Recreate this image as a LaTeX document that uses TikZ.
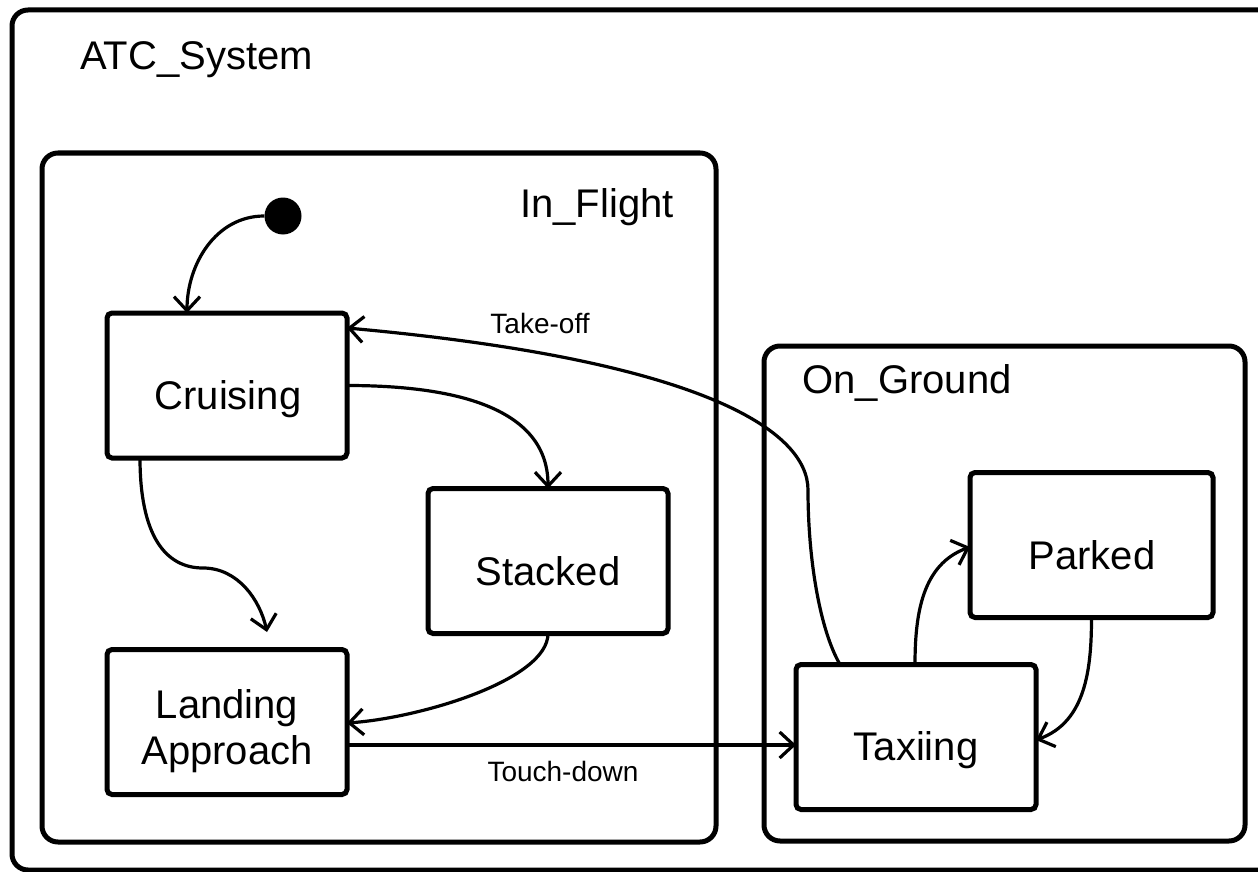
\documentclass[tikz,border=0pt]{standalone}
\usepackage{fontspec}
\setmainfont{Liberation Sans}
\usetikzlibrary{arrows.meta}
\begin{document}
\begin{tikzpicture}[x=1pt,y=-1pt,
  container/.style={draw,line width=5pt,rounded corners=16pt,inner sep=0pt,outer sep=0pt},
  statebox/.style={draw,line width=5pt,rounded corners=5pt,minimum width=240pt,minimum height=145pt,inner sep=0pt,outer sep=0pt},
  stext/.style={font=\fontsize{40}{46}\selectfont,inner sep=0pt,align=center},
  title/.style={font=\fontsize{40}{46}\selectfont,inner sep=0pt},
  conn/.style={line width=3.2pt,-{Straight Barb[length=14pt,width=26pt,line width=3.2pt]}},
  elabel/.style={font=\fontsize{28}{32}\selectfont,inner sep=0pt}]
\useasboundingbox (0,0) rectangle (1258,872);
% containers
\node[container,minimum width=1280pt,minimum height=860pt] (atcbox) at (652,440) {};
\node[title,anchor=west] (atc) at (80,60) {ATC\_System};
\node[container,minimum width=674pt,minimum height=689pt] (inflightbox) at (379,497.5) {};
\node[title] (inflight) at (597,207) {In\_Flight};
\node[container,minimum width=481pt,minimum height=495pt] (ongroundbox) at (1004.5,593.5) {};
\node[title] (onground) at (907,383) {On\_Ground};
% initial state
\node[circle,fill,minimum size=37pt,inner sep=0pt] (init) at (283,216) {};
% states
\node[statebox] (cruising) at (227,385.5) {};
\node[stext,anchor=base] (cruisingtxt) at (228,409) {Cruising};
\node[statebox] (stacked) at (548,561) {};
\node[stext,anchor=base] (stackedtxt) at (548,585) {Stacked};
\node[statebox] (landing) at (227,722) {};
\node[stext] (landingtxt) at (227,731) {Landing\\Approach};
\node[statebox,minimum width=243pt] (parked) at (1091.5,545) {};
\node[stext,anchor=base] (parkedtxt) at (1092,569) {Parked};
\node[statebox] (taxiing) at (916,737) {};
\node[stext,anchor=base] (taxiingtxt) at (916,760) {Taxiing};
% connectors
\draw[conn] (init.west) to[out=180,in=90] ([xshift=80pt]cruising.north west);
\draw[conn] (cruising.east) to[out=0,in=90] (stacked.north);
\coordinate (ca) at (267,632);
\draw[conn] ([xshift=33pt]cruising.south west) .. controls (140,535) and (165,568) .. (203,568)
  .. controls (238,568) and (260,600) .. (ca);
\draw[conn] (stacked.south) .. controls (548,680) and (420,718) .. ([yshift=-1pt]landing.east);
\draw[conn] ([yshift=-23pt]landing.east) -- ([yshift=-8pt]taxiing.west);
\node[elabel] (td) at (563,771) {Touch-down};
\coordinate (tk) at (808,490);
\draw[conn] ([xshift=44pt]taxiing.north west) .. controls (820,630) and (808,560) .. (tk)
  .. controls (808,430) and (700,360) .. ([yshift=-15pt]cruising.north east);
\node[elabel] (to) at (540,323) {Take-off};
\draw[conn] ([xshift=119pt]taxiing.north west) to[out=90,in=200] ([yshift=-2pt]parked.west);
\draw[conn] (parked.south) to[out=-90,in=20] ([yshift=-3pt]taxiing.east);
\end{tikzpicture}
\end{document}
